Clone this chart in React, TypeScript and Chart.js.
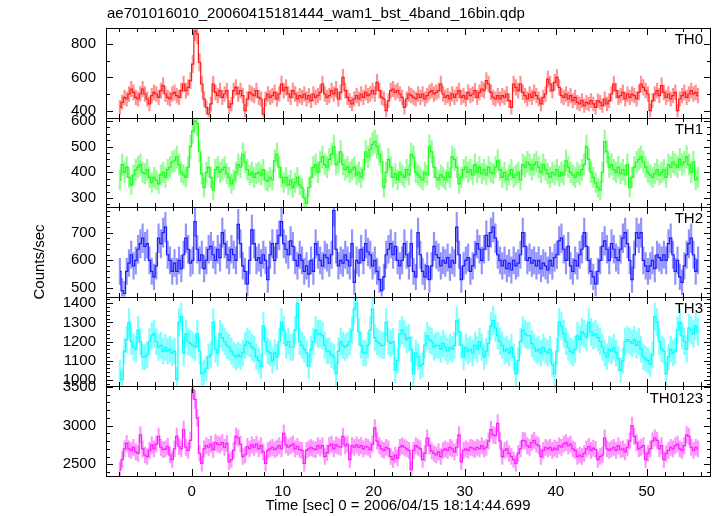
import React, { useEffect, useRef } from 'react';
import { Chart, registerables } from 'chart.js';

Chart.register(...registerables);

const TITLE = 'ae701016010_20060415181444_wam1_bst_4band_16bin.qdp';
const X_TITLE = 'Time [sec] 0 = 2006/04/15 18:14:44.699';
const Y_TITLE = 'Counts/sec';

// time grid of the light curve (bin centres, seconds)
const T_START = -7.875;
const BIN = 0.25;
const X_MIN = -9.4;
const X_MAX = 57.05;
const X_LABEL_STEP = 10;
const X_MINOR_STEP = 2;

// count rates (counts/sec), 4 bins per second starting at -8 s
const TH0 = [
  420, 450, 480, 470, 500, 530, 510, 480, 470, 500, 530, 500, 470, 440, 490, 510,
  500, 480, 520, 550, 500, 480, 470, 500, 510, 490, 480, 520, 560, 520, 540, 580,
  680, 880, 860, 690, 560, 470, 420, 380, 440, 560, 510, 490, 520, 480, 500, 520,
  420, 440, 520, 540, 500, 520, 490, 400, 470, 510, 500, 490, 520, 480, 470, 380,
  470, 500, 480, 490, 510, 470, 500, 560, 520, 540, 500, 480, 520, 500, 470, 490,
  480, 500, 470, 490, 460, 500, 480, 490, 510, 560, 500, 480, 490, 520, 500, 530,
  470, 510, 600, 520, 480, 460, 440, 470, 490, 470, 500, 480, 510, 490, 500, 520,
  500, 570, 520, 480, 470, 400, 460, 520, 530, 510, 520, 500, 480, 420, 470, 500,
  490, 480, 470, 500, 480, 500, 470, 490, 510, 520, 500, 510, 520, 560, 500, 480,
  490, 470, 500, 480, 500, 520, 480, 490, 470, 510, 490, 500, 520, 480, 510, 530,
  520, 580, 560, 510, 480, 470, 490, 470, 490, 480, 500, 460, 420, 560, 540, 520,
  560, 510, 490, 470, 500, 480, 510, 490, 470, 440, 480, 500, 590, 560, 520, 570,
  600, 540, 490, 480, 500, 470, 490, 460, 480, 450, 440, 460, 430, 450, 440, 460,
  440, 420, 460, 450, 430, 470, 440, 460, 500, 560, 520, 480, 490, 510, 470, 500,
  480, 500, 490, 470, 510, 560, 540, 520, 500, 400, 460, 500, 520, 490, 550, 510,
  480, 500, 470, 490, 510, 400, 470, 490, 510, 480, 500, 520, 500, 510, 490,
];

const TH1 = [
  370, 430, 400, 420, 380, 350, 390, 410, 420, 430, 400, 395, 410, 380, 360, 380,
  370, 355, 390, 400, 380, 410, 420, 440, 445, 460, 430, 400, 390, 380, 420, 500,
  560, 600, 590, 480, 395, 340, 400, 420, 380, 330, 410, 420, 400, 410, 420, 395,
  380, 355, 370, 400, 430, 420, 470, 440, 410, 390, 400, 380, 395, 400, 390, 410,
  370, 365, 380, 370, 445, 470, 420, 380, 360, 380, 350, 370, 340, 360, 380, 350,
  340, 300, 280, 340, 380, 420, 430, 400, 440, 460, 430, 420, 450, 470, 500, 430,
  440, 480, 430, 410, 420, 400, 410, 420, 390, 400, 380, 410, 480, 460, 490, 510,
  520, 500, 470, 440, 340, 400, 450, 420, 380, 395, 370, 400, 390, 380, 410, 390,
  470, 460, 400, 390, 380, 370, 400, 390, 500, 480, 420, 380, 370, 390, 380, 370,
  400, 380, 460, 450, 420, 355, 380, 410, 420, 400, 410, 390, 430, 400, 420, 395,
  410, 390, 420, 400, 395, 420, 445, 410, 380, 400, 370, 390, 410, 380, 390, 400,
  370, 430, 420, 440, 430, 410, 430, 440, 420, 400, 430, 410, 395, 380, 400, 390,
  410, 385, 400, 390, 445, 420, 400, 390, 380, 400, 390, 410, 430, 500, 450, 400,
  380, 360, 340, 330, 400, 520, 480, 420, 430, 410, 400, 420, 395, 410, 390, 430,
  340, 380, 420, 440, 450, 460, 440, 420, 400, 390, 380, 395, 410, 390, 400, 410,
  380, 430, 420, 440, 430, 420, 450, 430, 440, 460, 430, 400, 440, 370, 380,
];

const TH2 = [
  560, 490, 480, 560, 590, 620, 580, 600, 640, 660, 680, 650, 660, 600, 560, 540,
  580, 680, 660, 700, 720, 620, 600, 560, 590, 560, 600, 570, 620, 680, 640, 590,
  600, 740, 640, 600, 620, 570, 600, 640, 650, 620, 600, 640, 610, 700, 660, 620,
  600, 640, 620, 600, 730, 660, 580, 560, 515, 600, 710, 660, 600, 610, 590, 620,
  600, 530, 620, 660, 600, 660, 690, 740, 660, 640, 620, 670, 650, 600, 580, 620,
  600, 560, 580, 550, 600, 560, 660, 620, 600, 580, 620, 610, 590, 620, 780, 640,
  580, 600, 590, 620, 600, 580, 660, 520, 600, 590, 640, 600, 660, 630, 620, 580,
  600, 560, 530, 490, 540, 620, 640, 660, 620, 650, 600, 580, 600, 660, 620, 580,
  660, 560, 540, 700, 620, 560, 540, 580, 530, 580, 650, 620, 610, 580, 600, 590,
  610, 575, 600, 590, 720, 620, 530, 580, 600, 610, 560, 580, 620, 660, 640, 600,
  640, 690, 650, 700, 720, 680, 620, 600, 580, 600, 570, 590, 565, 600, 580, 590,
  620, 700, 650, 600, 610, 590, 600, 580, 600, 570, 590, 580, 565, 600, 580, 610,
  620, 670, 680, 640, 600, 650, 580, 560, 600, 580, 620, 640, 700, 650, 600, 560,
  540, 515, 560, 600, 650, 670, 640, 600, 660, 640, 610, 600, 640, 680, 700, 660,
  600, 530, 620, 700, 680, 700, 600, 580, 560, 580, 600, 570, 620, 610, 600, 620,
  600, 660, 680, 620, 560, 600, 540, 520, 580, 620, 660, 680, 620, 560, 600,
];

const TH3 = [
  1040, 1000, 1150, 1210, 1300, 1200, 1170, 1160, 1260, 1200, 1120, 1120, 1130, 1200, 1230, 1240,
  1200, 1170, 1180, 1150, 1170, 1150, 1160, 1140, 1150, 1000, 1300, 1330, 1140, 1240, 1200, 1190,
  1180, 1170, 1240, 1150, 1030, 1040, 1060, 1120, 1130, 1300, 1160, 1140, 1240, 1220, 1200, 1180,
  1170, 1150, 1130, 1120, 1130, 1120, 1140, 1180, 1200, 1190, 1170, 1160, 1120, 1100, 1070, 1280,
  1200, 1150, 1140, 1100, 1140, 1120, 1200, 1300, 1260, 1180, 1200, 1170, 1170, 1260, 1400, 1200,
  1180, 1160, 1140, 1070, 1160, 1200, 1260, 1240, 1240, 1230, 1180, 1150, 1150, 1130, 1120, 1030,
  1150, 1200, 1180, 1170, 1180, 1200, 1260, 1370, 1400, 1250, 1180, 1140, 1140, 1180, 1260, 1370,
  1220, 1200, 1190, 1180, 1180, 1300, 1200, 1190, 1200, 1050, 1100, 1240, 1260, 1240, 1210, 1220,
  1160, 1030, 1140, 1120, 1070, 1080, 1180, 1230, 1210, 1200, 1170, 1180, 1180, 1160, 1190, 1170,
  1150, 1170, 1160, 1180, 1310, 1250, 1180, 1120, 1170, 1150, 1160, 1140, 1180, 1160, 1200, 1170,
  1120, 1150, 1190, 1280, 1310, 1270, 1230, 1200, 1180, 1150, 1160, 1140, 1170, 1120, 1030, 1100,
  1200, 1260, 1240, 1230, 1230, 1190, 1170, 1150, 1160, 1140, 1170, 1150, 1140, 1160, 1080, 1030,
  1150, 1300, 1280, 1240, 1200, 1170, 1150, 1140, 1160, 1230, 1210, 1250, 1240, 1220, 1300, 1250,
  1230, 1240, 1220, 1200, 1170, 1140, 1120, 1160, 1150, 1170, 1140, 1110, 1050, 1100, 1200, 1210,
  1200, 1190, 1210, 1180, 1200, 1160, 1120, 1110, 1100, 1080, 1130, 1330, 1300, 1200, 1160, 1150,
  1030, 1120, 1160, 1140, 1150, 1260, 1300, 1230, 1200, 1160, 1270, 1260, 1240, 1280, 1250,
];

const TH0123 = [
  2430, 2560, 2700, 2770, 2700, 2680, 2720, 2660, 2640, 2880, 2700, 2620, 2600, 2680, 2750, 2700,
  2760, 2860, 2720, 2690, 2700, 2730, 2620, 2560, 2700, 2860, 2730, 2700, 2950, 2720, 2680, 2810,
  3470, 3340, 3100, 2640, 2510, 2700, 2740, 2720, 2760, 2690, 2780, 2760, 2750, 2780, 2720, 2770,
  2530, 2560, 2680, 2860, 2840, 2760, 2600, 2620, 2730, 2700, 2750, 2720, 2760, 2700, 2740, 2660,
  2510, 2680, 2700, 2720, 2690, 2710, 2740, 2700, 2900, 2750, 2720, 2740, 2760, 2700, 2730, 2690,
  2680, 2510, 2680, 2700, 2720, 2700, 2690, 2740, 2710, 2740, 2600, 2650, 2740, 2760, 2700, 2750,
  2730, 2720, 2860, 2740, 2760, 2560, 2740, 2720, 2750, 2720, 2740, 2700, 2730, 2720, 2690, 2760,
  2970, 2800, 2740, 2700, 2680, 2720, 2700, 2600, 2560, 2620, 2580, 2720, 2740, 2720, 2700, 2680,
  2430, 2680, 2740, 2720, 2700, 2560, 2640, 2840, 2740, 2670, 2640, 2620, 2660, 2600, 2680, 2700,
  2680, 2720, 2700, 2660, 2720, 2880, 2530, 2680, 2700, 2680, 2720, 2710, 2690, 2720, 2700, 2740,
  2700, 2720, 2800, 2950, 2880, 2870, 3030, 2800, 2600, 2680, 2700, 2640, 2600, 2560, 2510, 2640,
  2700, 2810, 2800, 2740, 2720, 2780, 2810, 2760, 2740, 2600, 2680, 2720, 2700, 2720, 2680, 2710,
  2690, 2740, 2720, 2760, 2780, 2740, 2760, 2700, 2680, 2600, 2620, 2600, 2640, 2700, 2730, 2680,
  2710, 2690, 2560, 2600, 2620, 2840, 2700, 2680, 2700, 2720, 2680, 2740, 2690, 2700, 2660, 2720,
  2800, 3000, 2860, 2780, 2700, 2720, 2740, 2560, 2640, 2700, 2800, 2840, 2810, 2700, 2740, 2560,
  2640, 2680, 2720, 2700, 2740, 2760, 2700, 2680, 2740, 2880, 2860, 2720, 2680, 2720, 2700,
];

const PANEL_NAMES = ['TH0', 'TH1', 'TH2', 'TH3', 'TH0123'];
const PANEL_SERIES = [TH0, TH1, TH2, TH3, TH0123];
const PANEL_MIN = [358, 264, 468, 965, 2348];
const PANEL_MAX = [897, 613, 792, 1434, 3508];
const PANEL_LABEL_STEP = [200, 100, 100, 100, 500];
const PANEL_MINOR_STEP = [100, 25, 20, 20, 100];
const PANEL_LINE_COLORS = ['#ff1a1a', '#1aff1a', '#1a1aff', '#00ffff', '#ff1aff'];
const PANEL_ERR_COLORS = [
  'rgba(255,40,40,0.5)',
  'rgba(40,255,40,0.5)',
  'rgba(40,40,255,0.5)',
  'rgba(0,255,255,0.5)',
  'rgba(255,40,255,0.5)',
];

const FONT = 'Liberation Sans, Arial, Helvetica, sans-serif';

function stepTicks(min: number, max: number, step: number) {
  const out: { value: number }[] = [];
  const k0 = Math.ceil(min / step);
  const k1 = Math.floor(max / step);
  for (let k = k0; k <= k1; k++) out.push({ value: k * step });
  return out;
}

const panelClip = {
  id: 'panelClip',
  beforeDatasetDraw(chart: any, args: any) {
    const ys = args.meta.yScale;
    const ca = chart.chartArea;
    const ctx = chart.ctx;
    ctx.save();
    ctx.beginPath();
    ctx.rect(ca.left, ys.top, ca.right - ca.left, ys.bottom - ys.top);
    ctx.clip();
  },
  afterDatasetDraw(chart: any) {
    chart.ctx.restore();
  },
};

const decor = {
  id: 'decor',
  afterDraw(chart: any) {
    const { ctx, chartArea: ca, scales } = chart;
    const xs = scales.x;
    ctx.save();
    ctx.strokeStyle = '#000';
    ctx.lineWidth = 1;
    for (let p = 0; p < PANEL_NAMES.length; p++) {
      const ys = scales['y' + p];
      const top = Math.round(ys.top);
      const bottom = Math.round(ys.bottom);
      ctx.strokeRect(Math.round(ca.left) + 0.5, top + 0.5, Math.round(ca.right - ca.left) - 1, bottom - top);
      ctx.beginPath();
      // y ticks (left and right, inward)
      const lStep = PANEL_LABEL_STEP[p];
      stepTicks(PANEL_MIN[p], PANEL_MAX[p], PANEL_MINOR_STEP[p]).forEach(({ value: v }) => {
        const y = Math.round(ys.getPixelForValue(v)) + 0.5;
        const len = v % lStep === 0 ? 7 : 4;
        ctx.moveTo(ca.left, y);
        ctx.lineTo(ca.left + len, y);
        ctx.moveTo(ca.right, y);
        ctx.lineTo(ca.right - len, y);
      });
      // x ticks (top and bottom of each panel, inward)
      stepTicks(X_MIN, X_MAX, X_MINOR_STEP).forEach(({ value: t }) => {
        const x = Math.round(xs.getPixelForValue(t)) + 0.5;
        const len = t % X_LABEL_STEP === 0 ? 7 : 4;
        ctx.moveTo(x, top);
        ctx.lineTo(x, top + len);
        ctx.moveTo(x, bottom);
        ctx.lineTo(x, bottom - len);
      });
      ctx.stroke();
      // panel name
      ctx.fillStyle = '#000';
      ctx.font = '15px ' + FONT;
      ctx.textAlign = 'right';
      ctx.textBaseline = 'middle';
      ctx.fillText(PANEL_NAMES[p], ca.right - 8, ys.top + 12);
    }
    ctx.fillStyle = '#000';
    ctx.font = '15px ' + FONT;
    ctx.textAlign = 'left';
    ctx.textBaseline = 'middle';
    ctx.fillText(TITLE, ca.left + 1, 14);
    ctx.textAlign = 'center';
    ctx.fillText(X_TITLE, 398, 506);
    ctx.translate(40, 262);
    ctx.rotate(-Math.PI / 2);
    ctx.fillText(Y_TITLE, 0, 0);
    ctx.restore();
  },
};

export default function App() {
  const ref = useRef<HTMLCanvasElement | null>(null);
  useEffect(() => {
    if (!ref.current) return;
    const datasets: any[] = [];
    PANEL_SERIES.forEach((series, p) => {
      const pts = series.map((v, i) => ({ x: T_START + i * BIN, y: v }));
      const errs = series.map((v, i) => {
        const e = Math.sqrt(v * BIN) / BIN;
        return { x: T_START + i * BIN, y: [v - e, v + e] };
      });
      datasets.push({
        type: 'bar',
        label: PANEL_NAMES[p] + ' err',
        data: errs,
        xAxisID: 'x',
        yAxisID: 'y' + p,
        backgroundColor: PANEL_ERR_COLORS[p],
        borderWidth: 0,
        barThickness: 1.5,
        grouped: false,
        order: 2,
      });
      datasets.push({
        type: 'line',
        label: PANEL_NAMES[p],
        data: pts,
        xAxisID: 'x',
        yAxisID: 'y' + p,
        borderColor: PANEL_LINE_COLORS[p],
        borderWidth: 1.2,
        pointRadius: 0,
        stepped: 'middle',
        fill: false,
        order: 1,
      });
    });

    const scales: any = {
      x: {
        type: 'linear',
        position: 'bottom',
        min: X_MIN,
        max: X_MAX,
        offset: false,
        grid: { display: false, drawTicks: false },
        border: { display: false },
        afterBuildTicks: (s: any) => {
          s.ticks = stepTicks(X_MIN, X_MAX, X_LABEL_STEP);
        },
        ticks: {
          autoSkip: false,
          maxRotation: 0,
          padding: 7,
          color: '#000',
          font: { family: FONT, size: 15 },
          callback: (v: any) => String(v),
        },
        afterFit: (s: any) => {
          s.height = 40;
        },
      },
    };
    // bottom panel first so that the top panel ends up on top of the stack
    for (let p = PANEL_NAMES.length - 1; p >= 0; p--) {
      const idx = p;
      scales['y' + p] = {
        type: 'linear',
        position: 'left',
        stack: 'panels',
        stackWeight: 1,
        min: PANEL_MIN[p],
        max: PANEL_MAX[p],
        offset: false,
        grid: { display: false, drawTicks: false },
        border: { display: false },
        afterBuildTicks: (s: any) => {
          s.ticks = stepTicks(PANEL_MIN[idx], PANEL_MAX[idx], PANEL_LABEL_STEP[idx]);
        },
        ticks: {
          autoSkip: false,
          padding: 10,
          color: '#000',
          font: { family: FONT, size: 15 },
          callback: (v: any) => String(v),
        },
        afterFit: (s: any) => {
          s.width = 106;
        },
      };
    }

    const chart = new Chart(ref.current, {
      type: 'line',
      data: { datasets },
      options: {
        responsive: false,
        animation: false,
        devicePixelRatio: 1,
        layout: { padding: { top: 28, right: 6, bottom: 0, left: 0 } },
        plugins: { legend: { display: false }, tooltip: { enabled: false }, title: { display: false } },
        scales,
      },
      plugins: [panelClip, decor],
    } as any);
    return () => chart.destroy();
  }, []);

  return (
    <div style={{ position: 'absolute', left: 0, top: 0, width: 717, height: 516, background: '#fff' }}>
      <canvas ref={ref} width={717} height={516} style={{ width: 717, height: 516, display: 'block' }} />
    </div>
  );
}
